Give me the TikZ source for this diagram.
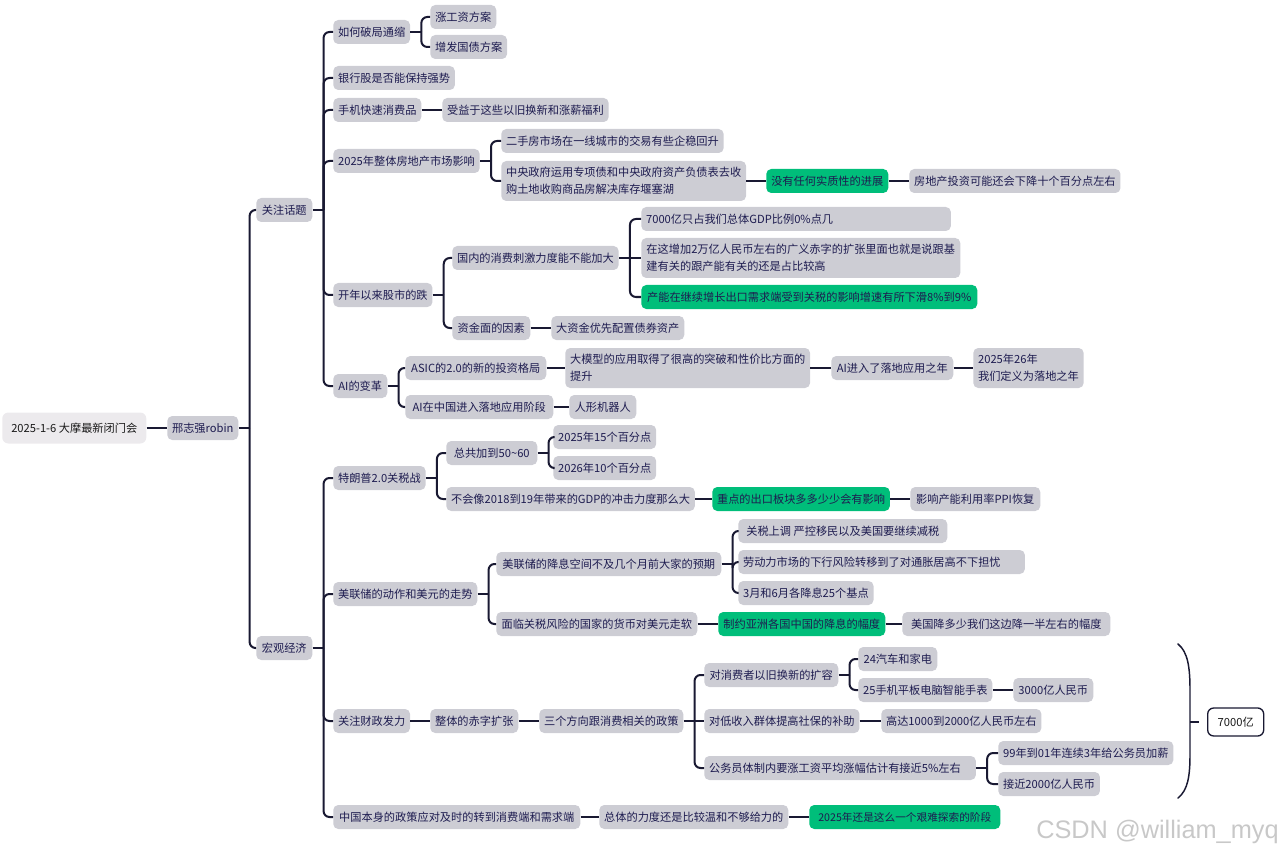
\documentclass[tikz,border=0pt]{standalone}
\usepackage{fontspec}
\setmainfont{Noto Sans CJK SC}
\newfontfamily\wmfont{Liberation Sans}
\definecolor{boxgray}{RGB}{205,205,212}
\definecolor{rootgray}{RGB}{236,234,237}
\definecolor{grn}{RGB}{0,190,122}
\definecolor{txt}{RGB}{30,28,80}
\definecolor{linec}{RGB}{25,25,50}
\definecolor{wm}{RGB}{200,200,200}
\tikzset{
  bx/.style={anchor=west, fill=boxgray, text=txt, rounded corners=3.75pt,
    inner xsep=3.6pt, inner ysep=1pt, minimum height=18pt,
    font=\fontsize{8.4}{12.75}\selectfont, align=left},
  gx/.style={bx, fill=grn},
  rootbx/.style={bx, fill=rootgray, text=black!90, rounded corners=4.5pt},
  totbx/.style={bx, fill=white, draw=linec, line width=1pt, text=black!90, rounded corners=4.5pt},
  W/.style={minimum width=#1*0.75pt},
  H/.style={minimum height=#1*0.75pt},
  conn/.style={draw=linec, line width=1.5pt},
}
% bent branches from a parent to children placed above or below it
\newcommand\mmfork[2]{%
  \draw[conn] (#1.east) -- ++(11,0) coordinate (#1-j);
  \foreach \ch in {#2}{\draw[conn, rounded corners=4.5pt] (#1-j) |- (\ch.west);}%
}
% straight branch from a fork point to a child level with the parent
\newcommand\mmmid[2]{\draw[conn] (#1-j) -- (#2.west);}
% straight single link
\newcommand\mmline[2]{\draw[conn] (#1.east) -- (#2.west);}
\begin{document}
\begin{tikzpicture}[x=0.75pt,y=-0.75pt]
\useasboundingbox (0,0) rectangle (1281,852);

% root level
\node[rootbx, W=144, H=31] (R) at (2,428) {2025-1-6 大摩最新闭门会};
\node[bx, W=69] (A) at (167,428) {邢志强robin};
\node[bx, W=56] (B1) at (256,210) {关注话题};
\node[bx, W=56] (B2) at (256,648) {宏观经济};

% 关注话题
\node[bx, W=76] (C1) at (333,32) {如何破局通缩};
\node[bx, W=66] (C1a) at (430,17) {涨工资方案};
\node[bx, W=76] (C1b) at (430,47) {增发国债方案};
\node[bx, W=119] (C2) at (333,78) {银行股是否能保持强势};
\node[bx, W=87] (C3) at (333,110) {手机快速消费品};
\node[bx, W=166] (C3a) at (442,110) {受益于这些以旧换新和涨薪福利};
\node[bx, W=146] (C4) at (333,161) {2025年整体房地产市场影响};
\node[bx, W=222] (C4a) at (501,141) {二手房市场在一线城市的交易有些企稳回升};
\node[bx, W=244, H=40] (C4b) at (501,181) {中央政府运用专项债和中央政府资产负债表去收\\购土地收购商品房解决库存堰塞湖};
\node[gx, W=122] (C4b1) at (766,181) {没有任何实质性的进展};
\node[bx, W=211] (C4b1a) at (909,181) {房地产投资可能还会下降十个百分点左右};
\node[bx, W=97] (C5) at (333,295) {开年以来股市的跌};
\node[bx, W=165] (C5a) at (452,258) {国内的消费刺激力度能不能加大};
\node[bx, text width=225pt] (C5a1) at (641,219) {7000亿只占我们总体GDP比例0\%点几};
\node[bx, W=319, H=40] (C5a2) at (641,258) {在这增加2万亿人民币左右的广义赤字的扩张里面也就是说跟基\\建有关的跟产能有关的还是占比较高};
\node[gx, W=336] (C5a3) at (641,297) {产能在继续增长出口需求端受到关税的影响增速有所下滑8\%到9\%};
\node[bx, W=78] (C5b) at (452,328) {资金面的因素};
\node[bx, W=133] (C5b1) at (551,328) {大资金优先配置债券资产};
\node[bx, W=54] (C6) at (333,386) {AI的变革};
\node[bx, W=141] (C6a) at (405,368) {ASIC的2.0的新的投资格局};
\node[bx, W=244, H=40] (C6a1) at (565,368) {大模型的应用取得了很高的突破和性价比方面的\\提升};
\node[bx, W=122] (C6a1a) at (831,368) {AI进入了落地应用之年};
\node[bx, W=110, H=40] (C6a1a1) at (973,368) {2025年26年\\我们定义为落地之年};
\node[bx, W=148] (C6b) at (405,407) {AI在中国进入落地应用阶段};
\node[bx, W=67] (C6b1) at (569,407) {人形机器人};

% 宏观经济
\node[bx, W=91] (D1) at (333,478) {特朗普2.0关税战};
\node[bx, W=91] (D1a) at (446,453) {总共加到50\textasciitilde60};
\node[bx, W=98] (D1a1) at (553,437) {2025年15个百分点};
\node[bx, W=98] (D1a2) at (553,468) {2026年10个百分点};
\node[bx, W=245] (D1b) at (446,499) {不会像2018到19年带来的GDP的冲击力度那么大};
\node[gx, W=176] (D1b1) at (712,499) {重点的出口板块多多少少会有影响};
\node[bx, W=130] (D1b1a) at (910,499) {影响产能利用率PPI恢复};
\node[bx, W=144] (D2) at (333,594) {美联储的动作和美元的走势};
\node[bx, W=225] (D2a) at (496,564) {美联储的降息空间不及几个月前大家的预期};
\node[bx, W=209] (D2a1) at (738,531) {关税上调 严控移民以及美国要继续减税};
\node[bx, text width=207.75pt] (D2a2) at (738,562) {劳动力市场的下行风险转移到了对通胀居高不下担忧};
\node[bx, W=122] (D2a3) at (738,593) {3月和6月各降息25个基点};
\node[bx, W=201] (D2b) at (496,624) {面临关税风险的国家的货币对美元走软};
\node[gx, W=167] (D2b1) at (718,624) {制约亚洲各国中国的降息的幅度};
\node[bx, W=208] (D2b1a) at (902,624) {美国降多少我们这边降一半左右的幅度};
\node[bx, W=76] (D3) at (333,721) {关注财政发力};
\node[bx, W=88] (D3a) at (430,721) {整体的赤字扩张};
\node[bx, W=144] (D3a1) at (539,721) {三个方向跟消费相关的政策};
\node[bx, W=134] (E1) at (704,675) {对消费者以旧换新的扩容};
\node[bx, W=79] (E1a) at (858,659) {24汽车和家电};
\node[bx, W=134] (E1b) at (858,690) {25手机平板电脑智能手表};
\node[bx, W=80] (E1b1) at (1013,690) {3000亿人民币};
\node[bx, W=155] (E2) at (704,721) {对低收入群体提高社保的补助};
\node[bx, W=158] (E2a) at (881,721) {高达1000到2000亿人民币左右};
\node[bx, text width=196.5pt] (E3) at (704,768) {公务员体制内要涨工资平均涨幅估计有接近5\%左右};
\node[bx, W=172] (E3a) at (998,753) {99年到01年连续3年给公务员加薪};
\node[bx, W=101] (E3b) at (998,784) {接近2000亿人民币};
\node[totbx, W=56, H=28] (T) at (1207,722) {7000亿};
\node[bx, W=247] (D4) at (333,817) {中国本身的政策应对及时的转到消费端和需求端};
\node[bx, W=189] (D4a) at (599,817) {总体的力度还是比较温和不够给力的};
\node[gx, W=191, font=\fontsize{8}{10}\selectfont] (D4a1) at (809,817) {2025年还是这么一个艰难探索的阶段};

% brace
\coordinate (brT) at (1178,644);
\coordinate (brB) at (1178,798);
\coordinate (brM) at (1190,722);
\draw[draw=linec, line width=1.1pt, line cap=round]
  (brT) .. controls (1188,652) and (1190,668) .. (1190,690) -- (1190,754)
  .. controls (1190,776) and (1188,790) .. (brB);
\draw[draw=linec, line width=1.1pt] (brM) -- ++(9,0);

% watermark
\node[anchor=east, inner sep=0pt, text=wm, font=\wmfont\fontsize{19}{19}\selectfont] (wmk) at (1279,832) {CSDN @william\_myq};

% connectors
\mmline{R}{A}
\mmfork{A}{B1,B2}
\mmfork{B1}{C1,C2,C3,C4,C5,C6}
\mmfork{C1}{C1a,C1b}
\mmline{C3}{C3a}
\mmfork{C4}{C4a,C4b}
\mmline{C4b}{C4b1}
\mmline{C4b1}{C4b1a}
\mmfork{C5}{C5a,C5b}
\mmfork{C5a}{C5a1,C5a3}
\mmmid{C5a}{C5a2}
\mmline{C5b}{C5b1}
\mmfork{C6}{C6a,C6b}
\mmline{C6a}{C6a1}
\mmline{C6a1}{C6a1a}
\mmline{C6a1a}{C6a1a1}
\mmline{C6b}{C6b1}
\mmfork{B2}{D1,D2,D3,D4}
\mmfork{D1}{D1a,D1b}
\mmfork{D1a}{D1a1,D1a2}
\mmline{D1b}{D1b1}
\mmline{D1b1}{D1b1a}
\mmfork{D2}{D2a,D2b}
\mmfork{D2a}{D2a1,D2a2,D2a3}
\mmline{D2b}{D2b1}
\mmline{D2b1}{D2b1a}
\mmline{D3}{D3a}
\mmline{D3a}{D3a1}
\mmfork{D3a1}{E1,E3}
\mmmid{D3a1}{E2}
\mmfork{E1}{E1a,E1b}
\mmline{E1b}{E1b1}
\mmline{E2}{E2a}
\mmfork{E3}{E3a,E3b}
\mmline{D4}{D4a}
\mmline{D4a}{D4a1}
\end{tikzpicture}
\end{document}
